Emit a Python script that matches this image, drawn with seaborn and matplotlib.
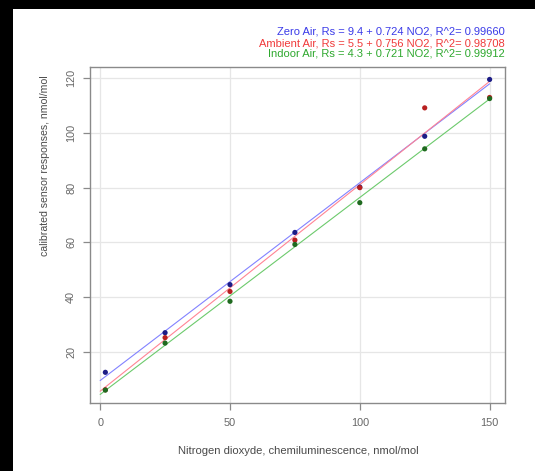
import matplotlib
matplotlib.use("Agg")
import matplotlib.pyplot as plt
import numpy as np
import pandas as pd
import seaborn as sns
from matplotlib.patches import Rectangle

# NO2 reference concentrations (chemiluminescence), nmol/mol
no2 = [2, 25, 50, 75, 100, 125, 150]

# calibrated sensor responses per test atmosphere, nmol/mol
zero_air = [12.4, 26.9, 44.5, 63.6, 80.2, 98.8, 119.6]
ambient_air = [6.0, 25.1, 42.0, 60.8, 80.0, 109.2, 113.0]
indoor_air = [5.9, 23.1, 38.4, 59.2, 74.5, 94.2, 112.6]

# fitted calibration lines: Rs = a + b * NO2
series = ["Zero Air", "Ambient Air", "Indoor Air"]
intercepts = [9.4, 5.5, 4.3]
slopes = [0.724, 0.756, 0.721]
r_squared = ["0.99660", "0.98708", "0.99912"]

x_ticks = [0, 50, 100, 150]
y_ticks = [20, 40, 60, 80, 100, 120]

text_colors = ["#3a3ae8", "#f03a3a", "#2ea82e"]
line_colors = ["#8282ff", "#ff8494", "#6cca6c"]
point_colors = ["#1c1c86", "#b82020", "#1f6a1f"]

sns.set_theme(style="white")
plt.rcParams["font.family"] = ["Liberation Sans", "DejaVu Sans"]

fig = plt.figure(figsize=(5.35, 4.71), dpi=100)
ax = fig.add_axes([0.1682, 0.1454, 0.7757, 0.7123])

points = pd.DataFrame({
    "NO2": no2 * 3,
    "Rs": zero_air + ambient_air + indoor_air,
    "series": sum([[s] * len(no2) for s in series], []),
})

fit_x = np.array([0.0, 150.0])
fits = pd.DataFrame({
    "NO2": np.concatenate([fit_x] * 3),
    "Rs": np.concatenate([a + b * fit_x for a, b in zip(intercepts, slopes)]),
    "series": sum([[s] * len(fit_x) for s in series], []),
})

sns.lineplot(data=fits, x="NO2", y="Rs", hue="series", hue_order=series,
             palette=line_colors, linewidth=0.8, legend=False, ax=ax, zorder=2)
for s, c in zip(series, point_colors):
    sns.scatterplot(data=points[points["series"] == s], x="NO2", y="Rs",
                    color=c, s=14, edgecolor="none", legend=False, ax=ax, zorder=3)

ax.set_xlim(-3.92, 155.92)
ax.set_ylim(1.35, 124.15)
ax.set_xticks(x_ticks)
ax.set_yticks(y_ticks)
ax.grid(True, color="#e6e6e6", linewidth=0.9)
ax.set_axisbelow(True)
for sp in ax.spines.values():
    sp.set_color("#8a8a8a")
    sp.set_linewidth(1.0)
ax.tick_params(axis="both", direction="out", length=5, width=0.9, color="#8a8a8a",
               labelsize=7.8, labelcolor="#666666", left=True, bottom=True)
ax.tick_params(axis="x", pad=6)
ax.tick_params(axis="y", pad=5)
for lab in ax.get_yticklabels():
    lab.set_rotation(90)
    lab.set_va("center")
ax.set_xlabel("")
ax.set_ylabel("")

fig.text(298 / 535, 1 - 451 / 471, "Nitrogen dioxyde, chemiluminescence, nmol/mol",
         ha="center", va="center", fontsize=8.1, color="#4a4a4a")
fig.text(45 / 535, 1 - 166 / 471, "calibrated sensor responses, nmol/mol",
         ha="center", va="center", rotation=90, fontsize=7.6, color="#4a4a4a")

for i, (s, a, b, r2, c) in enumerate(zip(series, intercepts, slopes, r_squared, text_colors)):
    fig.text(505 / 535, 1 - (32 + 11 * i) / 471,
             f"{s}, Rs = {a} + {b} NO2, R^2= {r2}",
             ha="right", va="center", fontsize=8.0, color=c)

# black border strips along the top and left edges
fig.add_artist(Rectangle((0, 1 - 9 / 471), 1, 9 / 471, transform=fig.transFigure,
                         facecolor="black", edgecolor="none"))
fig.add_artist(Rectangle((0, 0), 13 / 535, 1, transform=fig.transFigure,
                         facecolor="black", edgecolor="none"))

fig.savefig("out.png", dpi=100)
